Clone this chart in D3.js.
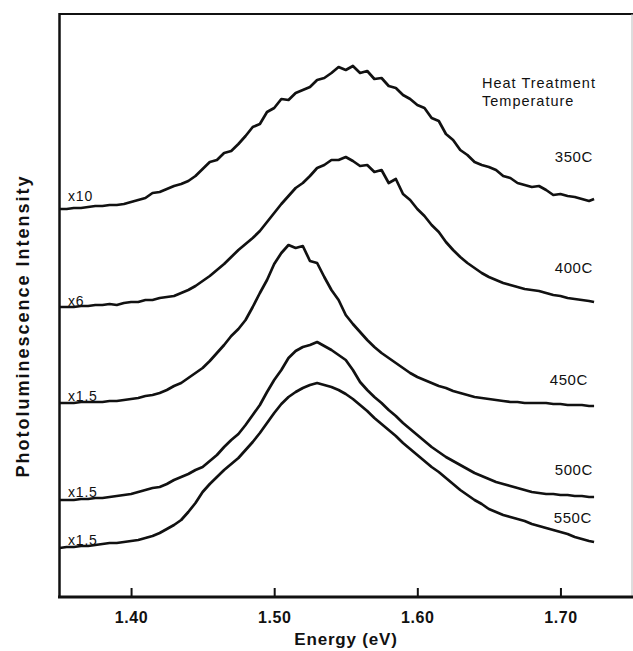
<!DOCTYPE html>
<html>
<head>
<meta charset="utf-8">
<script src="https://cdn.jsdelivr.net/npm/d3@7"></script>
<style>
  body { margin: 0; background: #fff; }
  text { font-family: "Liberation Sans", Arial, sans-serif; fill: #111; }
</style>
</head>
<body>
<svg id="chart" width="633" height="651"></svg>
<script>
// photon energy (eV), shared by all spectra
var energy = [
  1.350,1.355,1.360,1.365,1.370,1.375,1.380,1.385,1.390,1.395,
  1.400,1.405,1.410,1.415,1.420,1.425,1.430,1.435,1.440,1.445,
  1.450,1.455,1.460,1.465,1.470,1.475,1.480,1.485,1.490,1.495,
  1.500,1.505,1.510,1.515,1.520,1.525,1.530,1.535,1.540,1.545,
  1.550,1.555,1.560,1.565,1.570,1.575,1.580,1.585,1.590,1.595,
  1.600,1.605,1.610,1.615,1.620,1.625,1.630,1.635,1.640,1.645,
  1.650,1.655,1.660,1.665,1.670,1.675,1.680,1.685,1.690,1.695,
  1.700,1.705,1.710,1.715,1.720,1.7235
];

// PL intensity (arb. units, offset stacked as in the figure)
var pl350 = [
  388,388,389,389,390,391,391,392,392,393,
  395,397,399,404,405,408,411,413,416,421,
  428,435,437,444,446,453,461,470,473,485,
  489,498,497,504,507,510,517,519,524,530,
  527,531,524,526,518,519,511,509,502,498,
  492,489,479,476,463,457,447,442,435,432,
  430,427,421,419,414,412,410,411,407,402,
  403,401,400,398,396,398
];
var pl400 = [
  290,290,290,291,291,292,292,293,292,294,
  295,295,297,297,299,300,301,304,307,311,
  316,321,327,333,340,347,353,359,366,375,
  384,393,401,409,414,421,429,432,437,437,
  440,436,431,432,425,427,414,418,403,397,
  388,381,372,365,355,347,340,334,329,324,
  320,317,314,312,310,308,307,306,304,302,
  301,299,298,297,296,295
];
var pl450 = [
  194,194,194,195,195,195,195,196,196,197,
  198,199,201,202,204,207,211,214,219,224,
  229,236,244,252,261,268,277,290,304,317,
  333,344,352,349,351,336,334,320,307,297,
  282,273,265,257,250,244,239,234,229,224,
  220,217,214,211,209,206,204,202,200,199,
  198,197,196,195,195,194,194,194,194,193,
  193,192,192,192,191,191
];
var pl500 = [
  97,97,97,98,98,99,99,100,101,102,
  103,105,107,109,110,113,117,120,123,127,
  130,136,142,150,157,163,172,182,192,205,
  217,227,239,246,250,252,255,251,247,242,
  237,227,215,207,200,194,187,181,174,168,
  162,156,150,145,140,136,132,128,124,121,
  118,115,113,111,109,107,105,104,103,103,
  102,102,101,101,100,100
];
var pl550 = [
  49,50,50,51,51,52,53,54,54,55,
  56,57,59,61,64,68,72,77,85,94,
  105,113,120,127,133,139,147,155,164,174,
  184,193,200,205,209,212,214,212,210,207,
  203,198,192,186,179,173,167,161,154,148,
  142,136,130,125,119,113,107,102,97,93,
  88,85,82,80,78,76,73,71,69,67,
  65,63,60,58,56,55
];

var temps = ['350C', '400C', '450C', '500C', '550C'];
var factors = ['x10', 'x6', 'x1.5', 'x1.5', 'x1.5'];
var xTicks = [1.40, 1.50, 1.60, 1.70];

var spectra = [pl350, pl400, pl450, pl500, pl550];

// label nudges (px) relative to the ends of each curve
var factorDy = [-8, -1, -2, -3, -3];
var tempDy = [-37, -29, -21, -22, -19];
var tempX = [593, 593, 588, 593, 592];

var svg = d3.select('#chart');

var x = d3.scaleLinear().domain([1.35, 1.75]).range([59.5, 632]);
var y = d3.scaleLinear().domain([0, 584]).range([597, 13]);

// frame
svg.append('line').attr('x1', 59.5).attr('x2', 633).attr('y1', 14).attr('y2', 14)
  .attr('stroke', '#111').attr('stroke-width', 2);
svg.append('line').attr('x1', 632).attr('x2', 632).attr('y1', 14).attr('y2', 597)
  .attr('stroke', '#bbb').attr('stroke-width', 1);
svg.append('line').attr('x1', 59.5).attr('x2', 59.5).attr('y1', 13).attr('y2', 598)
  .attr('stroke', '#111').attr('stroke-width', 2.5);

var xAxis = svg.append('g')
  .attr('transform', 'translate(0,597)')
  .call(d3.axisBottom(x).tickValues(xTicks).tickSize(-9).tickPadding(15)
    .tickFormat(d3.format('.2f')));
xAxis.select('.domain').remove();
xAxis.selectAll('.tick line').attr('stroke', '#111').attr('stroke-width', 2);
xAxis.selectAll('.tick text')
  .style('font-family', '"Liberation Sans", Arial, sans-serif')
  .style('font-size', '16px').style('font-weight', 'bold')
  .style('letter-spacing', '0.6px').attr('fill', '#111');
svg.append('line').attr('x1', 58).attr('x2', 633).attr('y1', 597).attr('y2', 597)
  .attr('stroke', '#111').attr('stroke-width', 3);

// spectra
var line = d3.line()
  .x(function(d, i) { return x(energy[i]); })
  .y(function(d) { return y(d); });

svg.append('g').selectAll('path').data(spectra).enter().append('path')
  .attr('d', line)
  .attr('fill', 'none')
  .attr('stroke', '#111')
  .attr('stroke-width', 2.7)
  .attr('stroke-linejoin', 'round');

// scale factors on the left
svg.append('g').selectAll('text').data(factors).enter().append('text')
  .attr('x', 68)
  .attr('y', function(d, i) { return y(spectra[i][0]) + factorDy[i]; })
  .style('font-size', '14px')
  .style('letter-spacing', '0.8px')
  .text(function(d) { return d; });

// temperature labels on the right
svg.append('g').selectAll('text').data(temps).enter().append('text')
  .attr('x', function(d, i) { return tempX[i]; })
  .attr('y', function(d, i) { return y(spectra[i][spectra[i].length - 1]) + tempDy[i]; })
  .attr('text-anchor', 'end')
  .style('font-size', '15px')
  .style('letter-spacing', '0.6px')
  .text(function(d) { return d; });

svg.append('text').attr('x', 482).attr('y', 88)
  .style('font-size', '14.5px').style('letter-spacing', '1px')
  .text('Heat Treatment');
svg.append('text').attr('x', 482).attr('y', 106)
  .style('font-size', '14.5px').style('letter-spacing', '1px')
  .text('Temperature');

// axis titles
svg.append('text').attr('x', 346).attr('y', 645)
  .attr('text-anchor', 'middle')
  .style('font-size', '17px').style('font-weight', 'bold').style('letter-spacing', '0.8px')
  .text('Energy (eV)');
svg.append('text')
  .attr('transform', 'translate(29,326) rotate(-90)')
  .attr('text-anchor', 'middle')
  .style('font-size', '18px').style('font-weight', 'bold').style('letter-spacing', '2px')
  .text('Photoluminescence Intensity');
</script>
</body>
</html>
